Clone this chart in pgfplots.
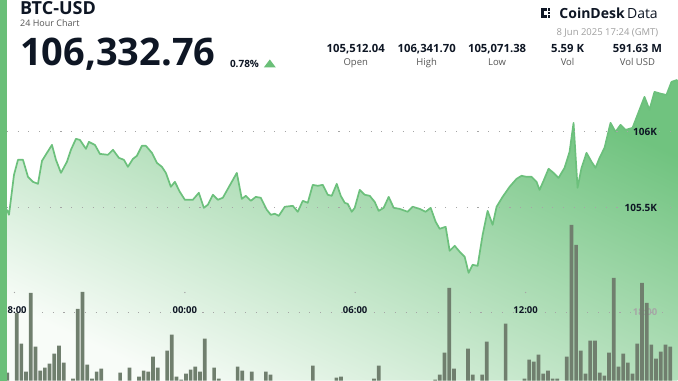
\documentclass[border=0pt]{standalone}
\usepackage{pgfplots}
\pgfplotsset{compat=1.18}
\usepackage{fontspec}
\setmainfont{Open Sans}
\definecolor{lineg}{RGB}{108,192,124}
\definecolor{barg}{RGB}{106,191,120}
\definecolor{topg}{RGB}{112,195,127}
\definecolor{midg}{RGB}{216,238,219}
\definecolor{botg}{RGB}{248,252,248}
\definecolor{volc}{RGB}{112,127,110}
\definecolor{ink}{RGB}{14,22,36}
\definecolor{lab}{RGB}{85,85,85}
\definecolor{dotc}{RGB}{165,165,165}
\pgfplotstableread{
x y
-0.264 105485
-0.194 105452
-0.018 105715
0.123 105814
0.299 105814
0.475 105702
0.651 105669
0.827 105656
0.968 105807
1.144 105860
1.319 105912
1.460 105814
1.636 105728
1.847 105801
1.988 105880
2.164 105952
2.305 105945
2.516 105886
2.621 105932
2.833 105912
3.008 105853
3.290 105847
3.466 105880
3.677 105827
3.853 105814
3.994 105768
4.170 105820
4.310 105840
4.486 105906
4.627 105906
4.838 105860
5.014 105794
5.190 105768
5.331 105728
5.507 105636
5.647 105669
5.823 105603
5.999 105551
6.281 105551
6.492 105597
6.668 105498
6.809 105518
6.985 105584
7.161 105551
7.336 105564
7.829 105728
8.005 105557
8.146 105577
8.322 105544
8.498 105570
8.674 105564
8.885 105485
9.026 105452
9.166 105459
9.307 105445
9.518 105505
9.800 105511
9.976 105472
10.152 105544
10.327 105531
10.503 105649
10.679 105643
10.855 105649
11.031 105584
11.172 105577
11.348 105656
11.489 105577
11.629 105531
11.735 105524
11.876 105472
11.981 105498
12.157 105616
12.333 105584
12.509 105577
12.685 105537
12.825 105478
13.001 105498
13.177 105570
13.353 105498
13.564 105491
13.846 105472
14.022 105505
14.268 105491
14.479 105472
14.655 105498
14.831 105406
14.972 105360
15.183 105373
15.324 105215
15.500 105248
15.676 105209
15.852 105176
15.992 105070
16.133 105123
16.309 105116
16.485 105320
16.661 105478
16.837 105386
16.977 105505
17.188 105570
17.434 105636
17.681 105689
17.857 105709
18.032 105702
18.208 105702
18.384 105669
18.490 105616
18.631 105676
18.807 105755
18.983 105728
19.159 105695
19.370 105761
19.546 105866
19.687 106057
19.828 105630
19.968 105761
20.144 105860
20.320 105801
20.461 105761
20.602 105827
20.778 105893
20.989 106057
21.165 105998
21.341 106044
21.517 106011
21.763 106024
22.009 106143
22.185 106228
22.361 106143
22.537 106261
22.783 106248
22.959 106241
23.135 106327
23.346 106340
}\pricedata
\begin{document}
\begin{tikzpicture}[x=1pt,y=1pt]
\fill[white] (0,0) rectangle (678,381);
% price axis
\begin{axis}[at={(7pt,0pt)}, anchor=south west, scale only axis,
  width=671pt, height=381pt,
  xmin=-0.264, xmax=23.346, ymin=104360, ymax=106866,
  axis line style={draw=none}, major tick length=0pt,
  xtick=\empty, scaled y ticks=false,
  ytick={105500,106000}, yticklabels={105.5K,106K},
  yticklabel pos=right,
  yticklabel style={anchor=east, xshift=-17pt, text=ink, font=\fontsize{10}{12}\selectfont\bfseries},
  ymajorgrids, grid style={draw=dotc, line width=1.1pt, dash pattern=on 1.1pt off 9.6pt},
  axis on top]
\addplot[draw=none, top color=topg, middle color=midg, bottom color=botg, shading angle=-25] table {\pricedata} \closedcycle;
\addplot[lineg, line width=1.7pt, line join=round] table {\pricedata};
\end{axis}
% volume axis
\begin{axis}[at={(7pt,0pt)}, anchor=south west, scale only axis,
  width=671pt, height=381pt,
  xmin=-2.06, xmax=140.55, ymin=0, ymax=381,
  hide axis, ybar, bar width=3.7pt]
\draw[dotc, line width=1.1pt, dash pattern=on 1.1pt off 9.6pt] (axis cs:-1.42,68.7) -- (axis cs:139.07,68.7);
\node[anchor=east, text=gray!70, font=\fontsize{9.5}{11}\selectfont\bfseries, inner sep=0pt] at (axis cs:136.3,68.5) {18:00};
\addplot[fill=volc, draw=none] coordinates {
(-2,8)(0,68)(1,37)(2,9)(3,88)(4,34)(5,10)(6,13)(7,17)(8,27)(9,35)(10,18)(12,2)(13,72)(14,89)(15,16)(16,2)(17,9)(18,12)(22,8)(24,13)(26,4)(27,10)(28,9)(29,24)(30,13)(32,30)(33,46)(34,4)(35,1)(36,7)(37,11)(38,14)(39,9)(40,42)(42,13)(43,2)(47,14)(48,10)(50,9)(53,9)(54,6)(63,15)(68,3)(69,4)(76,2)(77,15)(89,1)(90,6)(91,28)(92,93)(93,12)(96,32)(97,6)(99,6)(100,39)(104,57)(108,2)(109,21)(110,19)(111,26)(112,7)(113,10)(114,2)(115,2)(117,24)(118,156)(119,136)(120,30)(121,7)(122,40)(123,40)(124,8)(125,5)(126,28)(127,103)(128,14)(129,27)(130,18)(131,7)(132,37)(133,98)(134,78)(135,36)(136,22)(137,29)(138,36)(139,34)
};
\node[text=ink, font=\fontsize{9.5}{11}\selectfont\bfseries, inner sep=0pt] at (axis cs:-0.47,71) {18:00};
\node[text=ink, font=\fontsize{9.5}{11}\selectfont\bfseries, inner sep=0pt] at (axis cs:35.77,71) {00:00};
\node[text=ink, font=\fontsize{9.5}{11}\selectfont\bfseries, inner sep=0pt] at (axis cs:72.0,71) {06:00};
\node[text=ink, font=\fontsize{9.5}{11}\selectfont\bfseries, inner sep=0pt] at (axis cs:108.25,71) {12:00};
\fill[dotc] (axis cs:-0.47,88.3) circle (0.7pt);
\fill[dotc] (axis cs:35.77,88.3) circle (0.7pt);
\fill[dotc] (axis cs:72.0,88.3) circle (0.7pt);
\fill[dotc] (axis cs:108.25,88.3) circle (0.7pt);
\end{axis}
% left bar
\fill[barg] (0,0) rectangle (7,381);
% header
\node[anchor=base west, inner sep=0pt, text=ink, font=\fontsize{18}{21}\selectfont\bfseries] at (20,366) {BTC-USD};
\node[anchor=base west, inner sep=0pt, text=lab, font=\fontsize{9}{11}\selectfont] at (20,354) {24 Hour Chart};
\node[anchor=base west, inner sep=0pt, text=ink, font=\fontsize{38}{43}\selectfont\bfseries] at (20,315) {106,332.76};
\node[anchor=base west, inner sep=0pt, text=ink, font=\fontsize{10}{12}\selectfont\bfseries] at (230,313.5) {0.78\%};
\fill[barg] (264,313.5) -- (276,313.5) -- (270,321.5) -- cycle;
% stats
\node[anchor=base, inner sep=0pt, text=ink, font=\fontsize{11.3}{13}\selectfont\bfseries] at (356,328) {105,512.04};
\node[anchor=base, inner sep=0pt, text=ink, font=\fontsize{11.3}{13}\selectfont\bfseries] at (427,328) {106,341.70};
\node[anchor=base, inner sep=0pt, text=ink, font=\fontsize{11.3}{13}\selectfont\bfseries] at (497.5,328) {105,071.38};
\node[anchor=base, inner sep=0pt, text=ink, font=\fontsize{11.3}{13}\selectfont\bfseries] at (568,328) {5.59 K};
\node[anchor=base, inner sep=0pt, text=ink, font=\fontsize{11.3}{13}\selectfont\bfseries] at (638,328) {591.63 M};
\node[anchor=base, inner sep=0pt, text=lab, font=\fontsize{9.5}{11}\selectfont] at (356,315.3) {Open};
\node[anchor=base, inner sep=0pt, text=lab, font=\fontsize{9.5}{11}\selectfont] at (427,315.3) {High};
\node[anchor=base, inner sep=0pt, text=lab, font=\fontsize{9.5}{11}\selectfont] at (497.5,315.3) {Low};
\node[anchor=base, inner sep=0pt, text=lab, font=\fontsize{9.5}{11}\selectfont] at (568,315.3) {Vol};
\node[anchor=base, inner sep=0pt, text=lab, font=\fontsize{9.5}{11}\selectfont] at (638,315.3) {Vol USD};
% logo
\fill[ink] (541,362.7) rectangle (544,372.7);
\fill[ink] (541,369.9) rectangle (547.5,372.7);
\fill[ink] (541,362.7) rectangle (547.5,365.5);
\fill[ink] (548.5,369.9) rectangle (550.5,372.7);
\fill[ink] (548.5,362.7) rectangle (550.5,365.5);
\fill[ink] (548.5,366.6) rectangle (550.5,368.6);
\node[anchor=base east, inner sep=0pt, text=ink, font=\fontsize{14}{16}\selectfont] at (658.5,362.7) {\textbf{CoinDesk}\,Data};
\node[anchor=base east, inner sep=0pt, text=gray!75, font=\fontsize{9.5}{11}\selectfont] at (659,345.5) {8 Jun 2025 17:24 (GMT)};
\end{tikzpicture}
\end{document}
